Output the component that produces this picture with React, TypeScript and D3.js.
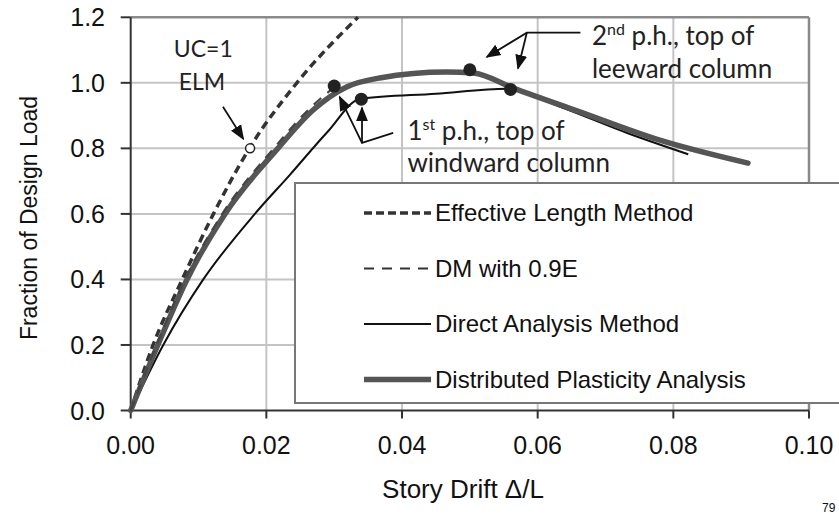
import React from 'react'
import * as d3 from 'd3'

// curves (x = story drift, y = fraction of design load)
const elmX = [0, 0.0033, 0.0076, 0.0122, 0.0175, 0.0245, 0.0335]
const elmY = [0, 0.2, 0.4, 0.6, 0.8, 1.0, 1.2]

const dmX = [0, 0.0038, 0.008, 0.0135, 0.0211, 0.0263, 0.0302]
const dmY = [0, 0.2, 0.4, 0.6, 0.8, 0.92, 0.99]

const damX = [0, 0.0048, 0.0107, 0.0183, 0.0235, 0.029, 0.0338, 0.045, 0.0555, 0.0633, 0.0732, 0.0822]
const damY = [0, 0.2, 0.4, 0.6, 0.72, 0.85, 0.951, 0.967, 0.982, 0.927, 0.847, 0.782]

const dpaX = [0, 0.004, 0.0083, 0.0139, 0.0217, 0.0269, 0.0319, 0.0367, 0.0466, 0.0505, 0.0564, 0.066, 0.078, 0.091]
const dpaY = [0, 0.2, 0.4, 0.6, 0.8, 0.917, 0.988, 1.015, 1.033, 1.03, 0.984, 0.913, 0.825, 0.755]

// plastic hinge markers
const hingeX = [0.03, 0.034, 0.05, 0.056]
const hingeY = [0.99, 0.95, 1.04, 0.98]

const xTicks = [0, 0.02, 0.04, 0.06, 0.08, 0.1]
const yTicks = [0, 0.2, 0.4, 0.6, 0.8, 1.0, 1.2]

const legendLabels = ['Effective Length Method', 'DM with 0.9E', 'Direct Analysis Method', 'Distributed Plasticity Analysis']

const W = 839
const H = 516
const left = 130.7
const right = 809
const top = 17.3
const bottom = 410.5

const axisFont = 'Arial, "Liberation Sans", sans-serif'
const noteFont = 'Lato, Carlito, Calibri, sans-serif'

const zip = (xs: number[], ys: number[]) => xs.map((x, i) => [x, ys[i]] as [number, number])

export default function App() {
  const x = d3.scaleLinear().domain([0, 0.1]).range([left, right])
  const y = d3.scaleLinear().domain([0, 1.2]).range([bottom, top])

  const line = d3
    .line<[number, number]>()
    .x(d => x(d[0]))
    .y(d => y(d[1]))
    .curve(d3.curveMonotoneX)

  const seg = (pts: [number, number][]) =>
    d3
      .line<[number, number]>()
      .x(d => x(d[0]))
      .y(d => y(d[1]))(pts) || ''

  const legendStyles = [
    { stroke: '#333', width: 3.5, dash: '8,4' },
    { stroke: '#333', width: 2.2, dash: '10,8' },
    { stroke: '#111', width: 2, dash: 'none' },
    { stroke: '#555', width: 5.5, dash: 'none' }
  ]

  return (
    <svg
      width={W}
      height={H}
      style={{ position: 'absolute', left: 0, top: 0, background: '#fff' }}
    >
      <defs>
        <marker id="arrB" viewBox="0 0 10 10" refX="9" refY="5" markerWidth="15" markerHeight="15" orient="auto" markerUnits="userSpaceOnUse">
          <path d="M0,1 L10,5 L0,9 z" fill="#111" />
        </marker>
      </defs>

      {/* grid */}
      {xTicks.slice(1, -1).map(t => (
        <line key={'gx' + t} x1={x(t)} x2={x(t)} y1={top} y2={bottom} stroke="#c4c4c4" strokeWidth={2} />
      ))}
      {yTicks.slice(1, -1).map(t => (
        <line key={'gy' + t} x1={left} x2={right} y1={y(t)} y2={y(t)} stroke="#c4c4c4" strokeWidth={2} />
      ))}
      <line x1={left} x2={right} y1={top} y2={top} stroke="#8a8a8a" strokeWidth={2.5} />
      <line x1={right} x2={right} y1={top} y2={bottom} stroke="#8a8a8a" strokeWidth={2.5} />

      {/* axes */}
      <line x1={left} x2={left} y1={top} y2={bottom} stroke="#333" strokeWidth={2} />
      <line x1={left} x2={right} y1={bottom} y2={bottom} stroke="#333" strokeWidth={2} />
      {yTicks.map(t => (
        <g key={'yt' + t}>
          <line x1={left - 10} x2={left} y1={y(t)} y2={y(t)} stroke="#333" strokeWidth={2} />
          <text x={105} y={y(t) + 9} textAnchor="end" fontFamily={axisFont} fontSize={25} fill="#111">
            {t.toFixed(1)}
          </text>
        </g>
      ))}
      {xTicks.map(t => (
        <g key={'xt' + t}>
          <line x1={x(t)} x2={x(t)} y1={bottom} y2={bottom + 8} stroke="#333" strokeWidth={2} />
          <text x={x(t)} y={454} textAnchor="middle" fontFamily={axisFont} fontSize={25} fill="#111">
            {t.toFixed(2)}
          </text>
        </g>
      ))}
      <text
        transform="translate(37,218) rotate(-90)"
        textAnchor="middle"
        fontFamily={axisFont}
        fontSize={23}
        fill="#111"
      >
        Fraction of Design Load
      </text>
      <text x={463} y={498} textAnchor="middle" fontFamily={axisFont} fontSize={26} fill="#111">
        Story Drift Δ/L
      </text>
      <text x={822} y={512} fontFamily={axisFont} fontSize={12} fill="#111">
        79
      </text>

      {/* curves */}
      <path d={line(zip(elmX, elmY)) || ''} fill="none" stroke="#333" strokeWidth={3.5} strokeDasharray="8,5" />
      <path d={line(zip(damX, damY)) || ''} fill="none" stroke="#111" strokeWidth={2} />
      <path d={line(zip(dpaX, dpaY)) || ''} fill="none" stroke="#555" strokeWidth={5.5} strokeLinecap="round" />
      <path d={line(zip(dmX, dmY)) || ''} fill="none" stroke="#444" strokeWidth={2.2} strokeDasharray="10,8" />

      {hingeX.map((hx, i) => (
        <circle key={'h' + i} cx={x(hx)} cy={y(hingeY[i])} r={6.5} fill="#222" />
      ))}
      <circle cx={x(0.0176)} cy={y(0.8)} r={4.5} fill="#fff" stroke="#222" strokeWidth={1.5} />

      {/* annotations */}
      <text x={x(0.0107)} y={y(1.079)} textAnchor="middle" fontFamily={noteFont} fontSize={23} fill="#222">
        UC=1
      </text>
      <text x={x(0.0105)} y={y(0.979)} textAnchor="middle" fontFamily={noteFont} fontSize={23} fill="#222">
        ELM
      </text>
      <path d={seg([[0.0136, 0.927], [0.0166, 0.829]])} stroke="#111" strokeWidth={1.8} markerEnd="url(#arrB)" />

      <path d={seg([[0.0387, 0.847], [0.0341, 0.817], [0.0308, 0.957]])} fill="none" stroke="#111" strokeWidth={1.8} markerEnd="url(#arrB)" />
      <path d={seg([[0.0341, 0.817], [0.0341, 0.924]])} fill="none" stroke="#111" strokeWidth={1.8} markerEnd="url(#arrB)" />
      <text x={x(0.0408)} y={y(0.826)} fontFamily={noteFont} fontSize={26} fill="#222">
        1<tspan dy={-10} fontSize={16}>st</tspan>
        <tspan dy={10}> p.h., top of</tspan>
      </text>
      <text x={x(0.0408)} y={y(0.728)} fontFamily={noteFont} fontSize={26} fill="#222">
        windward column
      </text>

      <path d={seg([[0.0663, 1.153], [0.0584, 1.153], [0.0525, 1.079]])} fill="none" stroke="#111" strokeWidth={1.8} markerEnd="url(#arrB)" />
      <path d={seg([[0.0584, 1.153], [0.0571, 1.044]])} fill="none" stroke="#111" strokeWidth={1.8} markerEnd="url(#arrB)" />
      <text x={x(0.068)} y={y(1.116)} fontFamily={noteFont} fontSize={26} fill="#222">
        2<tspan dy={-10} fontSize={16}>nd</tspan>
        <tspan dy={10}> p.h., top of</tspan>
      </text>
      <text x={x(0.068)} y={y(1.015)} fontFamily={noteFont} fontSize={26} fill="#222">
        leeward column
      </text>

      {/* legend */}
      <rect x={295} y={183} width={560} height={220} fill="#fff" stroke="#777" strokeWidth={2} />
      {legendLabels.map((lab, i) => {
        const ly = 213 + i * 55.5
        const st = legendStyles[i]
        return (
          <g key={lab}>
            <line x1={364} x2={431} y1={ly} y2={ly} stroke={st.stroke} strokeWidth={st.width} strokeDasharray={st.dash} />
            <text x={435} y={ly + 8} fontFamily={axisFont} fontSize={24} fill="#111">
              {lab}
            </text>
          </g>
        )
      })}
    </svg>
  )
}
